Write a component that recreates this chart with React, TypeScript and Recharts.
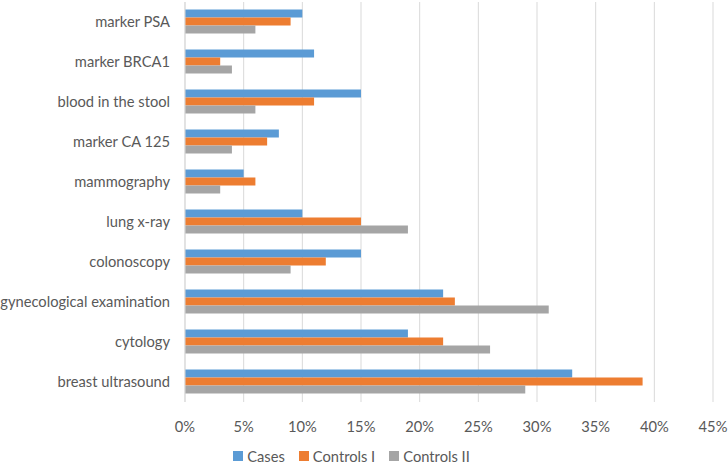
import React from "react";
import { BarChart, Bar, XAxis, YAxis, CartesianGrid, Legend } from "recharts";

const categories = [
  "marker PSA",
  "marker BRCA1",
  "blood in the stool",
  "marker CA 125",
  "mammography",
  "lung x-ray",
  "colonoscopy",
  "gynecological examination",
  "cytology",
  "breast ultrasound",
];

const cases = [0.1, 0.11, 0.15, 0.08, 0.05, 0.1, 0.15, 0.22, 0.19, 0.33];
const controlsI = [0.09, 0.03, 0.11, 0.07, 0.06, 0.15, 0.12, 0.23, 0.22, 0.39];
const controlsII = [0.06, 0.04, 0.06, 0.04, 0.03, 0.19, 0.09, 0.31, 0.26, 0.29];

const xTicks = [0, 0.05, 0.1, 0.15, 0.2, 0.25, 0.3, 0.35, 0.4, 0.45];

const series = [
  { key: "cases", name: "Cases", color: "#5B9BD5" },
  { key: "controlsI", name: "Controls I", color: "#ED7D31" },
  { key: "controlsII", name: "Controls II", color: "#A5A5A5" },
];

const data = categories.map((name, i) => ({
  name,
  cases: cases[i],
  controlsI: controlsI[i],
  controlsII: controlsII[i],
}));

const textColor = "#595959";
const fontFamily = "Lato, 'Open Sans', sans-serif";
const fontSize = 14.7;

const LegendBox = () => (
  <div
    style={{
      height: 33,
      display: "flex",
      alignItems: "flex-end",
      justifyContent: "center",
      fontFamily,
      fontSize,
      color: textColor,
      lineHeight: "18px",
      paddingRight: 10,
      boxSizing: "border-box",
    }}
  >
    {series.map((s) => (
      <div key={s.key} style={{ display: "flex", alignItems: "center", margin: "0 7px" }}>
        <span
          style={{ width: 10, height: 10, background: s.color, display: "inline-block", marginRight: 4 }}
        />
        <span>{s.name}</span>
      </div>
    ))}
  </div>
);

export default function App() {
  return (
    <div style={{ width: 728, height: 465, background: "#fff" }}>
      <style>{"body{margin:0}"}</style>
      <BarChart
        width={728}
        height={465}
        data={data}
        layout="vertical"
        margin={{ top: 2, right: 15, left: 0, bottom: 0 }}
        barCategoryGap="19%"
        barGap={0}
      >
        <CartesianGrid horizontal={false} stroke="#D9D9D9" />
        <XAxis
          type="number"
          domain={[0, 0.45]}
          ticks={xTicks}
          tickFormatter={(v: number) => `${Math.round(v * 100)}%`}
          axisLine={false}
          tickLine={false}
          tickSize={0}
          tickMargin={20}
          height={30}
          tick={{ fill: textColor, fontSize, fontFamily }}
          interval={0}
        />
        <YAxis
          type="category"
          dataKey="name"
          width={185}
          axisLine={{ stroke: "#D9D9D9" }}
          tickLine={false}
          tickSize={0}
          tickMargin={15}
          tick={{ fill: textColor, fontSize, fontFamily }}
          interval={0}
        />
        <Legend verticalAlign="bottom" content={<LegendBox />} />
        {series.map((s) => (
          <Bar
            key={s.key}
            dataKey={s.key}
            name={s.name}
            fill={s.color}
            isAnimationActive={false}
          />
        ))}
      </BarChart>
    </div>
  );
}
